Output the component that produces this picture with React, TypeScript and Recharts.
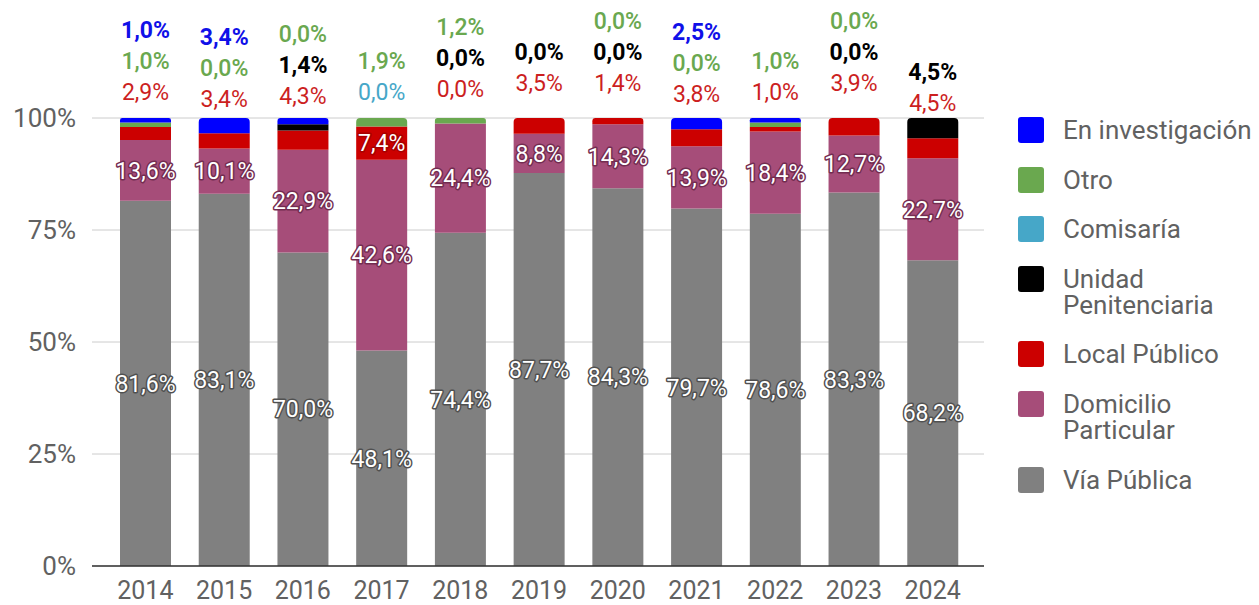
import React from "react";
import { BarChart, Bar, XAxis, YAxis, CartesianGrid, LabelList, Rectangle } from "recharts";

const years = ["2014", "2015", "2016", "2017", "2018", "2019", "2020", "2021", "2022", "2023", "2024"];
const viaPublica = [81.6, 83.1, 70.0, 48.1, 74.4, 87.7, 84.3, 79.7, 78.6, 83.3, 68.2];
const domicilioParticular = [13.6, 10.1, 22.9, 42.6, 24.4, 8.8, 14.3, 13.9, 18.4, 12.7, 22.7];
const localPublico = [2.9, 3.4, 4.3, 7.4, 0.0, 3.5, 1.4, 3.8, 1.0, 3.9, 4.5];
const unidadPenitenciaria = [0.0, 0.0, 1.4, 0.0, 0.0, 0.0, 0.0, 0.0, 0.0, 0.0, 4.5];
const comisaria = [0.0, 0.0, 0.0, 0.0, 0.0, 0.0, 0.0, 0.0, 0.0, 0.0, 0.0];
const otro = [1.0, 0.0, 0.0, 1.9, 1.2, 0.0, 0.0, 0.0, 1.0, 0.0, 0.0];
const enInvestigacion = [1.0, 3.4, 1.4, 0.0, 0.0, 0.0, 0.0, 2.5, 1.0, 0.0, 0.0];
const yTicks = [0, 25, 50, 75, 100];

// labels shown above each bar, from bottom to top
const outsideLabels: string[][] = [
  ["local", "otro", "enInv"],
  ["local", "otro", "enInv"],
  ["local", "unidad", "otro"],
  ["comisaria", "otro"],
  ["local", "unidad", "otro"],
  ["local", "unidad"],
  ["local", "unidad", "otro"],
  ["local", "otro", "enInv"],
  ["local", "otro"],
  ["local", "unidad", "otro"],
  ["local", "unidad"],
];

type Series = { key: string; name: string; color: string; text: string; halo: string; weight: number; values: number[] };

const series: Series[] = [
  { key: "via", name: "Vía Pública", color: "#808080", text: "#808080", halo: "#505050", weight: 400, values: viaPublica },
  { key: "dom", name: "Domicilio Particular", color: "#a64d79", text: "#a64d79", halo: "#732c50", weight: 400, values: domicilioParticular },
  { key: "local", name: "Local Público", color: "#cc0000", text: "#cc1f1f", halo: "#a80000", weight: 400, values: localPublico },
  { key: "unidad", name: "Unidad Penitenciaria", color: "#000000", text: "#000000", halo: "#000000", weight: 700, values: unidadPenitenciaria },
  { key: "comisaria", name: "Comisaría", color: "#46a7c8", text: "#46a7c8", halo: "#2a6f87", weight: 400, values: comisaria },
  { key: "otro", name: "Otro", color: "#6aa84f", text: "#6aa84f", halo: "#3f6e2c", weight: 500, values: otro },
  { key: "enInv", name: "En investigación", color: "#0000ff", text: "#1010e8", halo: "#0000a0", weight: 700, values: enInvestigacion },
];

const data = years.map((year, i) => {
  const row: Record<string, any> = { year };
  series.forEach((s) => (row[s.key] = s.values[i]));
  return row;
});

const totals = years.map((_, i) => series.reduce((a, s) => a + s.values[i], 0));
const topKeyAt = years.map((_, i) => {
  let k = "";
  series.forEach((s) => {
    if (s.values[i] > 0) k = s.key;
  });
  return k;
});

const fmt = (v: number) => v.toFixed(1).replace(".", ",") + "%";
const FONT = "Roboto, 'Noto Sans', sans-serif";

const geom = (props: any) => {
  const vb = props.viewBox && props.viewBox.width != null ? props.viewBox : props;
  return { x: Number(vb.x), y: Number(vb.y), width: Number(vb.width), height: Number(vb.height), index: props.index };
};

const makeInside = (s: Series, minValue: number) => (props: any) => {
  const { x, y, width, height, index } = geom(props);
  const v = s.values[index];
  if (v == null || v < minValue) return null;
  return (
    <text
      x={x + width / 2}
      y={y + height / 2}
      dy="0.36em"
      textAnchor="middle"
      fontSize={23}
      fontFamily={FONT}
      fill="#ffffff"
      stroke={s.halo}
      strokeWidth={3}
      strokeLinejoin="round"
      paintOrder="stroke"
    >
      {fmt(v)}
    </text>
  );
};

const renderOutside = (props: any) => {
  const { x, y, width, height, index } = geom(props);
  const total = totals[index];
  const y0 = y + height;
  const full = (height * total) / viaPublica[index];
  const cx = x + width / 2;
  const cumTop: Record<string, number> = {};
  let run = 0;
  series.forEach((s) => {
    run += s.values[index];
    cumTop[s.key] = run;
  });
  let prev = Infinity;
  const keys = outsideLabels[index] || [];
  return (
    <g>
      {keys.map((k) => {
        const s = series.find((q) => q.key === k)!;
        const topY = y0 - (full * cumTop[k]) / total;
        const cy = Math.min(topY - 35, prev - 31);
        prev = cy;
        return (
          <text
            key={k}
            x={cx}
            y={cy}
            dy="0.36em"
            textAnchor="middle"
            fontSize={23}
            fontFamily={FONT}
            fontWeight={s.weight}
            fill={s.text}
          >
            {fmt(s.values[index])}
          </text>
        );
      })}
    </g>
  );
};

const makeShape = (key: string) => (props: any) => (
  <Rectangle {...props} radius={topKeyAt[props.index] === key ? [4, 4, 0, 0] : 0} />
);

const legendOrder = [...series].reverse();

export default function App() {
  return (
    <div
      style={{
        position: "absolute",
        left: 0,
        top: 0,
        width: 1259,
        height: 605,
        overflow: "hidden",
        background: "#ffffff",
        fontFamily: FONT,
      }}
    >
      <BarChart
        width={1259}
        height={605}
        data={data}
        stackOffset="expand"
        margin={{ top: 118, right: 275, left: 0, bottom: 0 }}
      >
        <CartesianGrid vertical={false} stroke="#cccccc" />
        <XAxis
          dataKey="year"
          height={39}
          tickSize={0}
          tickLine={false}
          tickMargin={15}
          axisLine={{ stroke: "#333333", strokeWidth: 1.5 }}
          padding={{ left: 14, right: 12 }}
          tick={{ fill: "#616161", fontSize: 25, fontFamily: FONT }}
        />
        <YAxis
          width={92}
          domain={[0, 1]}
          ticks={yTicks.map((t) => t / 100)}
          tickFormatter={(v: number) => `${Math.round(v * 100)}%`}
          tickSize={0}
          tickLine={false}
          tickMargin={16}
          axisLine={false}
          tick={{ fill: "#616161", fontSize: 26, fontFamily: FONT }}
        />
        {series.map((s) => (
          <Bar
            key={s.key}
            dataKey={s.key}
            name={s.name}
            stackId="a"
            fill={s.color}
            barSize={51}
            isAnimationActive={false}
            shape={makeShape(s.key)}
          >
            {s.key === "via" && <LabelList dataKey={s.key} content={makeInside(s, 0)} />}
            {s.key === "dom" && <LabelList dataKey={s.key} content={makeInside(s, 0)} />}
            {s.key === "local" && <LabelList dataKey={s.key} content={makeInside(s, 5)} />}
            {s.key === "via" && <LabelList dataKey={s.key} content={renderOutside} />}
          </Bar>
        ))}
      </BarChart>
      <div style={{ position: "absolute", left: 1018, top: 117 }}>
        {legendOrder.map((s) => (
          <div key={s.key} style={{ display: "flex", alignItems: "flex-start", marginBottom: 23.6 }}>
            <div
              style={{
                width: 26,
                height: 26,
                borderRadius: 3,
                background: s.color,
                marginRight: 19,
                flexShrink: 0,
              }}
            />
            <div style={{ width: 196, fontSize: 26, lineHeight: "26px", color: "#616161", whiteSpace: "normal" }}>{s.name}</div>
          </div>
        ))}
      </div>
    </div>
  );
}
